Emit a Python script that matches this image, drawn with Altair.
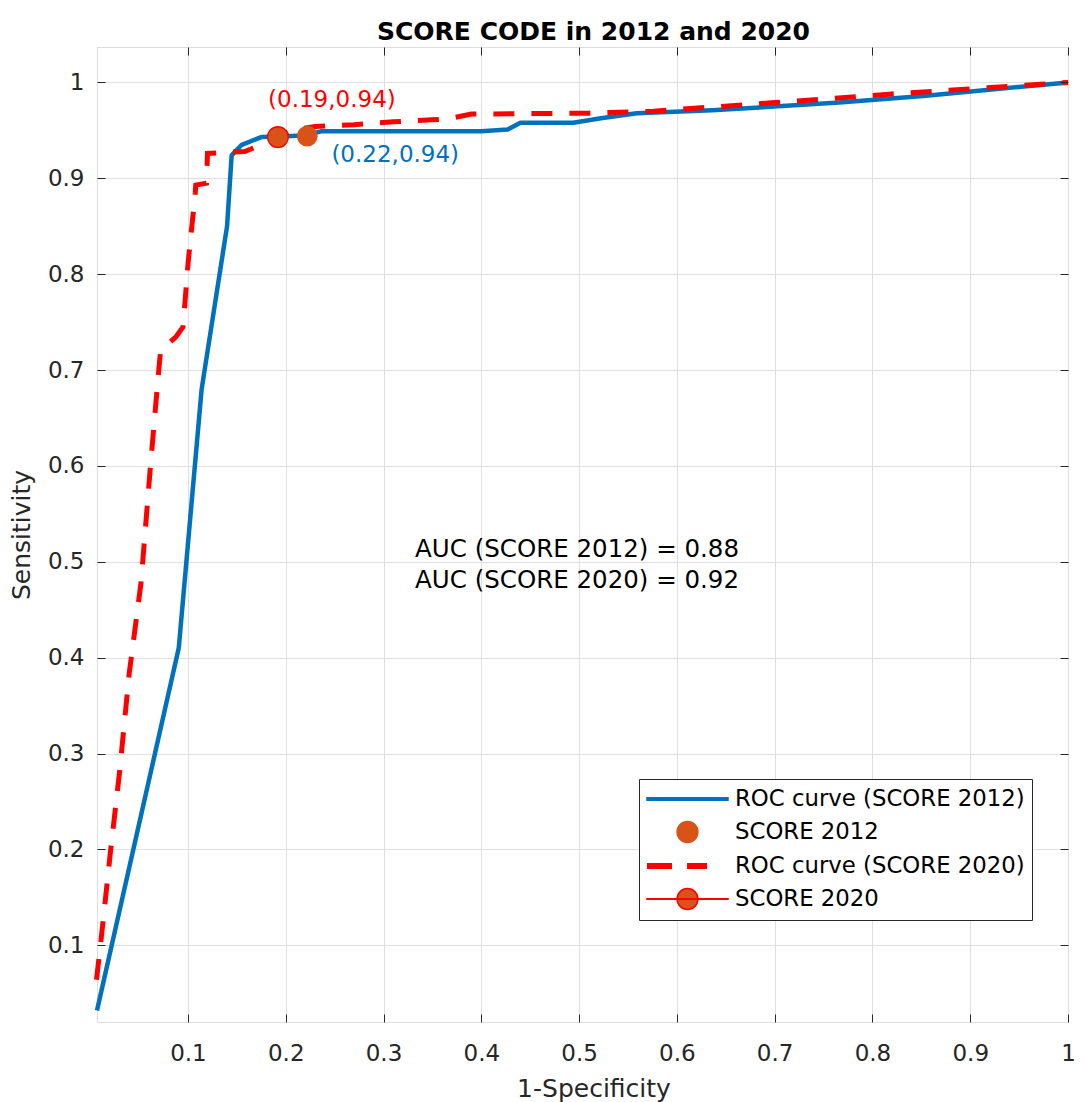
import altair as alt
import pandas as pd

BLUE = "#0072BD"
RED = "#FF0000"
ORANGE = "#D95319"
DARK = "#262626"
FONT = "DejaVu Sans"

# ROC curve SCORE 2012 (solid blue)
blue_x = [0.007, 0.0906, 0.114, 0.140, 0.1447, 0.155, 0.175, 0.200, 0.222, 0.236, 0.25, 0.40,
          0.427, 0.440, 0.494, 0.524, 0.559, 0.636, 0.766, 0.852, 1.0]
blue_y = [0.032, 0.41, 0.68, 0.85, 0.924, 0.935, 0.943, 0.944, 0.945, 0.949, 0.949, 0.949,
          0.951, 0.958, 0.958, 0.963, 0.968, 0.971, 0.979, 0.986, 1.0]

# ROC curve SCORE 2020 (dashed red)
red_x = [0.0065, 0.013, 0.0206, 0.030, 0.040, 0.052, 0.062, 0.070, 0.072, 0.088, 0.095, 0.100,
         0.1075, 0.108, 0.119, 0.120, 0.158, 0.175, 0.192, 0.205, 0.23, 0.27, 0.31, 0.35, 0.365,
         0.39, 0.51, 0.576, 0.70, 0.82, 1.0]
red_y = [0.064, 0.123, 0.196, 0.28, 0.384, 0.478, 0.604, 0.698, 0.72, 0.735, 0.745, 0.81,
         0.885, 0.893, 0.895, 0.926, 0.928, 0.935, 0.943, 0.950, 0.954, 0.956, 0.959, 0.961, 0.962,
         0.967, 0.968, 0.970, 0.979, 0.988, 1.0]

# operating points
op_names = ["SCORE 2012", "SCORE 2020"]
op_x = [0.222, 0.192]
op_y = [0.944, 0.943]
op_labels = ["(0.22,0.94)", "(0.19,0.94)"]

# AUC annotation
auc_lines = ["AUC (SCORE 2012) = 0.88", "AUC (SCORE 2020) = 0.92"]
auc_x = [0.3323, 0.3323]
auc_y = [0.5047, 0.4724]

legend_names = ["ROC curve (SCORE 2012)", "SCORE 2012", "ROC curve (SCORE 2020)", "SCORE 2020"]

x_ticks = [0.1, 0.2, 0.3, 0.4, 0.5, 0.6, 0.7, 0.8, 0.9, 1.0]
y_ticks = [0.1, 0.2, 0.3, 0.4, 0.5, 0.6, 0.7, 0.8, 0.9, 1.0]
x_domain = [0.007, 1.0]
y_domain = [0.02, 1.037]

W, H = 971, 975

blue_df = pd.DataFrame({"x": blue_x, "y": blue_y, "i": range(len(blue_x))})
red_df = pd.DataFrame({"x": red_x, "y": red_y, "i": range(len(red_x))})
op_df = pd.DataFrame({"x": op_x, "y": op_y, "name": op_names, "label": op_labels})
auc_df = pd.DataFrame({"x": auc_x, "y": auc_y, "text": auc_lines})

xs = alt.Scale(domain=x_domain, nice=False, zero=False)
ys = alt.Scale(domain=y_domain, nice=False, zero=False)

# grid-only axes
grid_x = alt.Axis(orient="bottom", values=x_ticks, grid=True, gridColor="#DFDFDF", gridWidth=1,
                  ticks=False, labels=False, domain=False, title=None, zindex=0)
grid_y = alt.Axis(orient="left", values=y_ticks, grid=True, gridColor="#DFDFDF", gridWidth=1,
                  ticks=False, labels=False, domain=False, title=None, zindex=0)

# main labelled axes with inward ticks
main_x = alt.Axis(orient="bottom", values=x_ticks, format="~g", grid=False, domain=False,
                  ticks=True, tickSize=8, offset=-8, tickColor=DARK, tickWidth=1,
                  labelFont=FONT, labelFontSize=23, labelColor=DARK, labelPadding=20,
                  labelOverlap=False, labelFlush=False,
                  title="1-Specificity", titleFont=FONT, titleFontSize=25,
                  titleFontWeight="normal", titleColor=DARK, titlePadding=11,
                  titleX=W / 2 + 11, zindex=1)
main_y = alt.Axis(orient="left", values=y_ticks, format="~g", grid=False, domain=False,
                  ticks=True, tickSize=8, offset=-8, tickColor=DARK, tickWidth=1,
                  labelFont=FONT, labelFontSize=23, labelColor=DARK, labelPadding=13,
                  labelOverlap=False, labelFlush=False,
                  title="Sensitivity", titleFont=FONT, titleFontSize=25,
                  titleFontWeight="normal", titleColor=DARK, titlePadding=13, zindex=1)

# top / right inward ticks
top_x = alt.Axis(orient="top", values=x_ticks, grid=False, domain=False, labels=False,
                 ticks=True, tickSize=8, offset=-8, tickColor=DARK, tickWidth=1, title=None, zindex=1)
right_y = alt.Axis(orient="right", values=y_ticks, grid=False, domain=False, labels=False,
                   ticks=True, tickSize=8, offset=-8, tickColor=DARK, tickWidth=1, title=None, zindex=1)

blue_line = alt.Chart(blue_df).mark_line(color=BLUE, strokeWidth=4.5, strokeJoin="round").encode(
    x=alt.X("x:Q", scale=xs, axis=grid_x),
    y=alt.Y("y:Q", scale=ys, axis=grid_y),
    order="i:Q",
)

red_line = alt.Chart(red_df).mark_line(color=RED, strokeWidth=5, strokeDash=[21, 17]).encode(
    x=alt.X("x:Q", scale=xs, axis=main_x),
    y=alt.Y("y:Q", scale=ys, axis=main_y),
    order="i:Q",
)

pt2012 = alt.Chart(op_df).transform_filter(alt.datum.name == "SCORE 2012").mark_point(
    shape="circle", filled=True, size=430, opacity=1, color=ORANGE, strokeWidth=0
).encode(
    x=alt.X("x:Q", scale=xs, axis=top_x),
    y=alt.Y("y:Q", scale=ys, axis=right_y),
)

pt2020 = alt.Chart(op_df).transform_filter(alt.datum.name == "SCORE 2020").mark_point(
    shape="circle", filled=True, size=430, opacity=1, fill=ORANGE, stroke=RED, strokeWidth=1.3
).encode(
    x=alt.X("x:Q", scale=xs, axis=None),
    y=alt.Y("y:Q", scale=ys, axis=None),
)

lab2012 = alt.Chart(op_df).transform_filter(alt.datum.name == "SCORE 2012").mark_text(
    font=FONT, fontSize=23, color=BLUE, align="center", baseline="alphabetic", dx=88, dy=26
).encode(
    x=alt.X("x:Q", scale=xs, axis=None),
    y=alt.Y("y:Q", scale=ys, axis=None),
    text="label:N",
)

lab2020 = alt.Chart(op_df).transform_filter(alt.datum.name == "SCORE 2020").mark_text(
    font=FONT, fontSize=23, color=RED, align="center", baseline="alphabetic", dx=54, dy=-30
).encode(
    x=alt.X("x:Q", scale=xs, axis=None),
    y=alt.Y("y:Q", scale=ys, axis=None),
    text="label:N",
)

auc_text = alt.Chart(auc_df).mark_text(
    font=FONT, fontSize=24.5, color="black", align="left", baseline="alphabetic"
).encode(
    x=alt.X("x:Q", scale=xs, axis=None),
    y=alt.Y("y:Q", scale=ys, axis=None),
    text="text:N",
)

# legend symbols: custom paths, symbolSize 576 -> 12 px per path unit,
# symbol centre 13 px from the entry start
P_LINE = "M-1,-0.104H5.75V0.104H-1Z"
P_DOT = "M3.242,0A0.867,0.867,0,1,1,1.508,0A0.867,0.867,0,1,1,3.242,0Z"
P_DASH = "M-0.94,-0.19H1.02V0.19H-0.94Z M2.4,-0.19H3.94V0.19H2.4Z"
P_DOTLINE = ("M-1,-0.03H5.75V0.03H-1Z "
             "M3.242,0A0.867,0.867,0,1,1,1.508,0A0.867,0.867,0,1,1,3.242,0Z")

leg = alt.Legend(
    orient="none", legendX=542, legendY=732, title=None,
    symbolSize=576, symbolStrokeWidth=1.5, symbolOpacity=1,
    labelFont=FONT, labelFontSize=22.8, labelColor="black", labelOffset=63, labelLimit=0,
    rowPadding=7, padding=7, strokeColor=DARK, fillColor="white",
)

legend_layer = alt.Chart(op_df).transform_filter("false").mark_point(
    filled=True, opacity=1, size=576, strokeWidth=1.5
).encode(
    x=alt.X("x:Q", scale=xs, axis=None),
    y=alt.Y("y:Q", scale=ys, axis=None),
    fill=alt.Fill("name:N", scale=alt.Scale(domain=legend_names, range=[BLUE, ORANGE, RED, ORANGE]), legend=leg),
    stroke=alt.Stroke("name:N", scale=alt.Scale(domain=legend_names, range=[BLUE, ORANGE, RED, RED]), legend=leg),
    shape=alt.Shape("name:N", scale=alt.Scale(domain=legend_names, range=[P_LINE, P_DOT, P_DASH, P_DOTLINE]), legend=leg),
)

chart = alt.layer(
    blue_line, red_line, pt2020, pt2012, lab2012, lab2020, auc_text, legend_layer
).resolve_axis(
    x="independent", y="independent"
).properties(
    width=W, height=H,
    title=alt.TitleParams(text="SCORE CODE in 2012 and 2020", font=FONT, fontSize=25,
                          fontWeight="bold", color="black", anchor="middle",
                          baseline="bottom", offset=2, dx=11, dy=25),
    autosize=alt.AutoSizeParams(type="none"),
    padding={"left": 89, "top": 39, "right": 8, "bottom": 80},
).configure_view(
    stroke=DARK, strokeWidth=1
).configure(background="white")

chart.save("out.html", embed_options={"renderer": "svg", "actions": False})
